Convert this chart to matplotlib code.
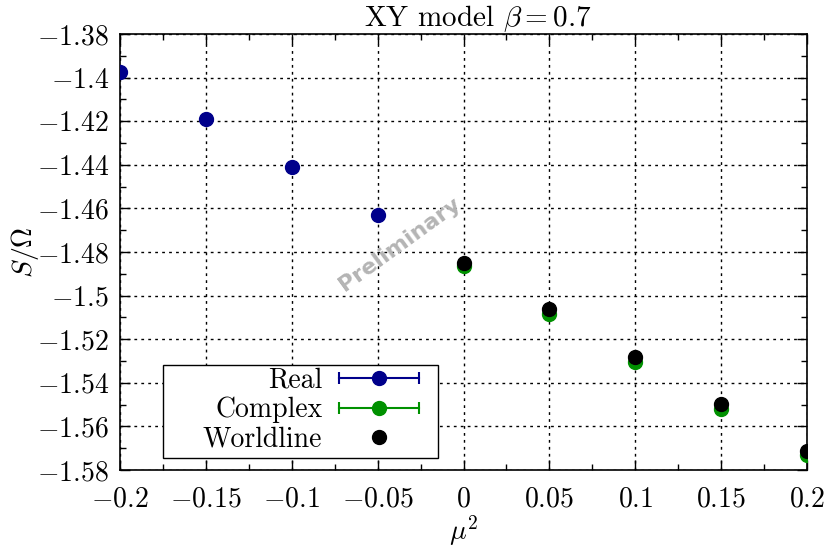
import matplotlib
matplotlib.use("Agg")
import matplotlib.pyplot as plt
from matplotlib.lines import Line2D
from matplotlib.patches import Rectangle
from matplotlib.legend_handler import HandlerLine2D, HandlerTuple
from matplotlib.ticker import MultipleLocator, FuncFormatter

plt.rcParams["mathtext.fontset"] = "cm"
plt.rcParams["font.family"] = "serif"
plt.rcParams["font.serif"] = ["cmr10", "DejaVu Serif"]
plt.rcParams["axes.formatter.use_mathtext"] = True

# data
mu2_real = [-0.2, -0.15, -0.1, -0.05]
s_real = [-1.3974, -1.4192, -1.4410, -1.4630]
err_real = [0.0002, 0.0002, 0.0002, 0.0002]

mu2_cplx = [0.0, 0.05, 0.1, 0.15, 0.2]
s_cplx = [-1.4862, -1.5084, -1.5303, -1.5522, -1.5731]
err_cplx = [0.0002, 0.0002, 0.0002, 0.0002, 0.0002]

mu2_wl = [0.0, 0.05, 0.1, 0.15, 0.2]
s_wl = [-1.4849, -1.5063, -1.5280, -1.5499, -1.5711]

BLUE = "#00008b"
GREEN = "#009100"
FS = 20


def tick_fmt(v, pos):
    if abs(v) < 1e-9:
        return "$0$"
    return f"${v:g}$"


fig = plt.figure(figsize=(8.3, 5.58), dpi=100)
ax = fig.add_axes([0.1446, 0.1577, 0.8277, 0.7813])

ax.errorbar(mu2_real, s_real, yerr=err_real, fmt="o", color=BLUE, ms=10,
            capsize=4, elinewidth=1.5, capthick=1.5, zorder=3)
ax.errorbar(mu2_cplx, s_cplx, yerr=err_cplx, fmt="o", color=GREEN, ms=10,
            capsize=4, elinewidth=1.5, capthick=1.5, zorder=3)
ax.plot(mu2_wl, s_wl, "o", color="black", ms=10, zorder=4)

ax.set_xlim(-0.2, 0.2)
ax.set_ylim(-1.58, -1.38)
ax.xaxis.set_major_locator(MultipleLocator(0.05))
ax.xaxis.set_minor_locator(MultipleLocator(0.025))
ax.yaxis.set_major_locator(MultipleLocator(0.02))
ax.yaxis.set_minor_locator(MultipleLocator(0.01))
ax.xaxis.set_major_formatter(FuncFormatter(tick_fmt))
ax.yaxis.set_major_formatter(FuncFormatter(tick_fmt))
ax.tick_params(which="both", direction="in", top=True, right=True, labelsize=FS)
ax.tick_params(which="major", length=7, width=1)
ax.tick_params(which="minor", length=4, width=1)
ax.tick_params(axis="x", pad=12)
ax.tick_params(axis="y", pad=8)
ax.grid(True, which="major", color="black", linestyle=(0, (2, 3)), linewidth=1)

ax.set_xlabel(r"$\mu^2$", fontsize=FS, labelpad=0)
ax.set_ylabel(r"$S/\Omega$", fontsize=FS, labelpad=-3)
ax.set_title(r"XY model $\beta = 0.7$", fontsize=21, pad=3, x=0.52)

ax.text(-0.037, -1.4765, "Preliminary", family="DejaVu Sans", fontweight="bold",
        fontsize=16, color="#b4b4b4", rotation=36, ha="center", va="center",
        zorder=2)

# legend handles: horizontal error bar with caps plus a dot
handles = []
hmap = {}
for c in [BLUE, GREEN]:
    bar = Line2D([], [], color=c, lw=1.5, marker="|", ms=8, mew=1.5)
    dot = Line2D([], [], color=c, marker="o", ms=10, ls="none")
    hmap[bar] = HandlerLine2D(numpoints=2)
    handles.append((bar, dot))
handles.append(Line2D([], [], color="black", marker="o", ms=10, ls="none"))
hmap[tuple] = HandlerTuple(ndivide=1)

leg = ax.legend(handles, ["Real", "Complex", "Worldline"], handler_map=hmap,
                loc="center right", bbox_to_anchor=(0.46, 0.1376), markerfirst=False,
                fontsize=FS, handlelength=3.48, frameon=False,
                labelspacing=0.12, borderpad=0.3, handletextpad=0.32,
                borderaxespad=0, numpoints=1)
leg.set_zorder(6)
ax.add_patch(Rectangle((0.0626, 0.0275), 0.4003, 0.2133, transform=ax.transAxes,
                       facecolor="white", edgecolor="black", lw=1, zorder=5))

for s in ax.spines.values():
    s.set_linewidth(1.2)

fig.savefig("out.png", dpi=100)
